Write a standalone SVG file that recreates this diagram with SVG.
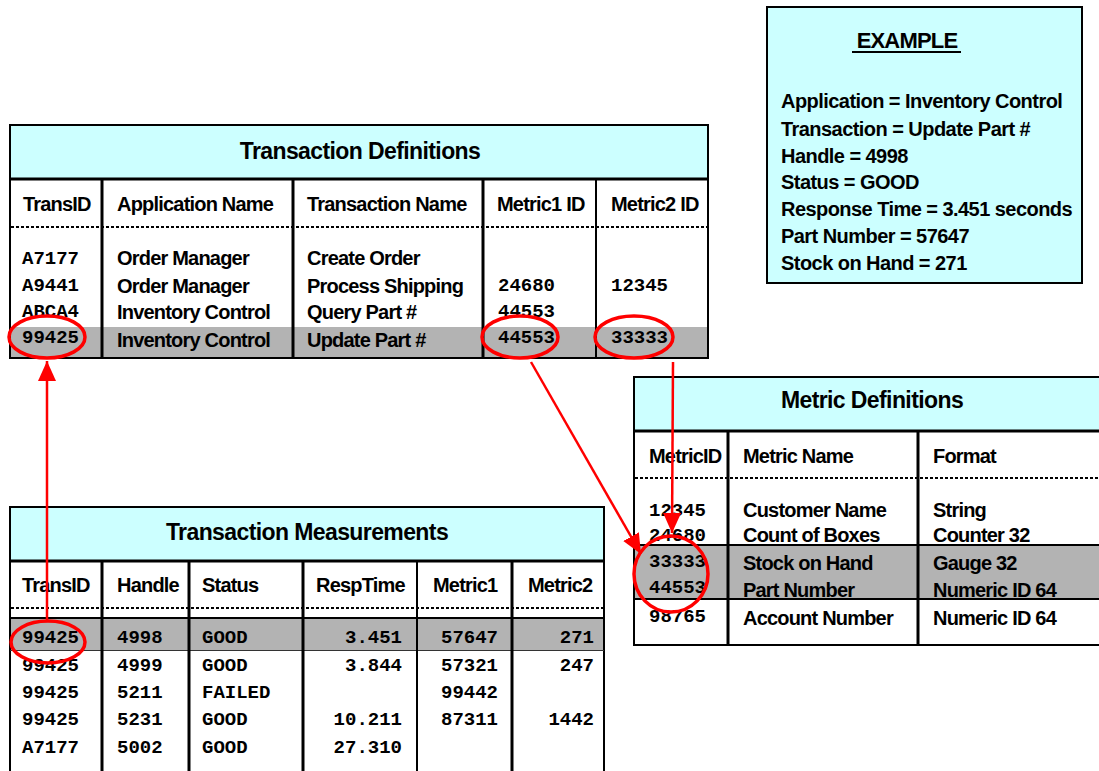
<svg xmlns="http://www.w3.org/2000/svg" width="1099" height="771" viewBox="0 0 1099 771">
  <style>
    .frame { fill: #FFFFFF; stroke: #000000; stroke-width: 2; }
    .band { fill: #CCFFFF; }
    .shade { fill: #B3B3B3; }
    .rule { stroke: #000000; stroke-width: 2; fill: none; }
    .thick { stroke: #000000; stroke-width: 3; fill: none; }
    .dots { stroke: #000000; stroke-width: 2; stroke-dasharray: 3 2; fill: none; }
    .title { font-family: "Liberation Sans", Arial, sans-serif; font-weight: bold; font-size: 23px; letter-spacing: -0.6px; text-anchor: middle; fill: #000; }
    .head { font-family: "Liberation Sans", Arial, sans-serif; font-weight: bold; font-size: 20px; letter-spacing: -0.8px; fill: #000; }
    .txt { font-family: "Liberation Sans", Arial, sans-serif; font-weight: bold; font-size: 20px; letter-spacing: -0.8px; fill: #000; }
    .note { font-family: "Liberation Sans", Arial, sans-serif; font-weight: bold; font-size: 20px; letter-spacing: -0.55px; fill: #000; }
    .caption { font-family: "Liberation Sans", Arial, sans-serif; font-weight: bold; font-size: 22px; letter-spacing: -0.8px; text-anchor: middle; fill: #000; }
    .mono { font-family: "Liberation Mono", "Courier New", monospace; font-weight: bold; font-size: 19px; fill: #000; }
    .end { text-anchor: end; }
    .ring { fill: none; stroke: #FF0000; stroke-width: 3.5; }
    .link { stroke: #FF0000; stroke-width: 2.5; fill: none; marker-end: url(#head); }
  </style>
  <defs>
    <marker id="head" viewBox="0 0 20 18" refX="20" refY="9" markerWidth="20" markerHeight="18" markerUnits="userSpaceOnUse" orient="auto">
      <path d="M0,0 L20,9 L0,18 Z" fill="#FF0000"/>
    </marker>
  </defs>

  <!-- Transaction Definitions table -->
  <g id="transaction-definitions">
    <rect class="frame" x="10" y="125" width="698" height="233"/>
    <rect class="band" x="11" y="126" width="696" height="53"/>
    <rect class="shade" x="11" y="327" width="696" height="30"/>
    <line class="thick" x1="10" y1="179" x2="708" y2="179"/>
    <line class="dots" x1="11" y1="227" x2="707" y2="227"/>
    <line class="thick" x1="102" y1="179" x2="102" y2="358"/>
    <line class="thick" x1="293" y1="179" x2="293" y2="358"/>
    <line class="thick" x1="483" y1="179" x2="483" y2="358"/>
    <line class="rule" x1="596" y1="179" x2="596" y2="358"/>
    <rect class="frame" x="10" y="125" width="698" height="233" style="fill:none"/>
    <text class="title" x="360" y="159">Transaction Definitions</text>
    <text class="head" x="23" y="211">TransID</text>
    <text class="head" x="117" y="211">Application Name</text>
    <text class="head" x="307" y="211">Transaction Name</text>
    <text class="head" x="497" y="211">Metric1 ID</text>
    <text class="head" x="611" y="211">Metric2 ID</text>
    <text class="mono" x="22" y="264">A7177</text>
    <text class="mono" x="22" y="291">A9441</text>
    <text class="mono" x="22" y="317">ABCA4</text>
    <text class="mono" x="22" y="343">99425</text>
    <text class="txt" x="117" y="265">Order Manager</text>
    <text class="txt" x="117" y="293">Order Manager</text>
    <text class="txt" x="117" y="319">Inventory Control</text>
    <text class="txt" x="117" y="347">Inventory Control</text>
    <text class="txt" x="307" y="265">Create Order</text>
    <text class="txt" x="307" y="293">Process Shipping</text>
    <text class="txt" x="307" y="319">Query Part #</text>
    <text class="txt" x="307" y="347">Update Part #</text>
    <text class="mono" x="498" y="291">24680</text>
    <text class="mono" x="498" y="317">44553</text>
    <text class="mono" x="498" y="343">44553</text>
    <text class="mono" x="611" y="291">12345</text>
    <text class="mono" x="611" y="343">33333</text>
  </g>

  <!-- Metric Definitions table (runs off the right edge) -->
  <g id="metric-definitions">
    <rect class="frame" x="634" y="377" width="480" height="268"/>
    <rect class="band" x="635" y="378" width="470" height="53"/>
    <rect class="shade" x="635" y="545" width="470" height="54"/>
    <line class="thick" x1="634" y1="431" x2="1110" y2="431"/>
    <line class="dots" x1="635" y1="478" x2="1110" y2="478"/>
    <line class="rule" x1="634" y1="545" x2="1110" y2="545"/>
    <line class="rule" x1="634" y1="599" x2="1110" y2="599"/>
    <line class="thick" x1="728" y1="431" x2="728" y2="645"/>
    <line class="thick" x1="918" y1="431" x2="918" y2="645"/>
    <text class="title" x="872" y="408">Metric Definitions</text>
    <text class="head" x="649" y="463">MetricID</text>
    <text class="head" x="743" y="463">Metric Name</text>
    <text class="head" x="933" y="463">Format</text>
    <text class="mono" x="649" y="516">12345</text>
    <text class="mono" x="649" y="541">24680</text>
    <text class="mono" x="649" y="567">33333</text>
    <text class="mono" x="649" y="593">44553</text>
    <text class="mono" x="649" y="622">98765</text>
    <text class="txt" x="743" y="517">Customer Name</text>
    <text class="txt" x="743" y="542">Count of Boxes</text>
    <text class="txt" x="743" y="570">Stock on Hand</text>
    <text class="txt" x="743" y="597">Part Number</text>
    <text class="txt" x="743" y="625">Account Number</text>
    <text class="txt" x="933" y="517">String</text>
    <text class="txt" x="933" y="542">Counter 32</text>
    <text class="txt" x="933" y="570">Gauge 32</text>
    <text class="txt" x="933" y="597">Numeric ID 64</text>
    <text class="txt" x="933" y="625">Numeric ID 64</text>
  </g>

  <!-- Transaction Measurements table (runs off the bottom edge) -->
  <g id="transaction-measurements">
    <rect class="frame" x="10" y="507" width="594" height="280"/>
    <rect class="band" x="11" y="508" width="592" height="53"/>
    <rect class="shade" x="11" y="619" width="592" height="31"/>
    <line class="thick" x1="10" y1="561" x2="604" y2="561"/>
    <line class="dots" x1="11" y1="608" x2="603" y2="608"/>
    <line class="rule" x1="10" y1="618" x2="604" y2="618"/>
    <line x1="10" y1="650.5" x2="604" y2="650.5" stroke="#333" stroke-width="1"/>
    <line class="thick" x1="102" y1="561" x2="102" y2="780"/>
    <line class="thick" x1="189" y1="561" x2="189" y2="780"/>
    <line class="thick" x1="303" y1="561" x2="303" y2="780"/>
    <line class="rule" x1="417" y1="561" x2="417" y2="780"/>
    <line class="thick" x1="512" y1="561" x2="512" y2="780"/>
    <text class="title" x="307" y="540">Transaction Measurements</text>
    <text class="head" x="22" y="592">TransID</text>
    <text class="head" x="117" y="592">Handle</text>
    <text class="head" x="202" y="592">Status</text>
    <text class="head" x="316" y="592">RespTime</text>
    <text class="head" x="433" y="592">Metric1</text>
    <text class="head" x="528" y="592">Metric2</text>
    <text class="mono" x="22" y="643">99425</text>
    <text class="mono" x="22" y="671">99425</text>
    <text class="mono" x="22" y="698">99425</text>
    <text class="mono" x="22" y="725">99425</text>
    <text class="mono" x="22" y="753">A7177</text>
    <text class="mono" x="117" y="643">4998</text>
    <text class="mono" x="117" y="671">4999</text>
    <text class="mono" x="117" y="698">5211</text>
    <text class="mono" x="117" y="725">5231</text>
    <text class="mono" x="117" y="753">5002</text>
    <text class="mono" x="202" y="643">GOOD</text>
    <text class="mono" x="202" y="671">GOOD</text>
    <text class="mono" x="202" y="698">FAILED</text>
    <text class="mono" x="202" y="725">GOOD</text>
    <text class="mono" x="202" y="753">GOOD</text>
    <text class="mono end" x="402" y="643">3.451</text>
    <text class="mono end" x="402" y="671">3.844</text>
    <text class="mono end" x="402" y="725">10.211</text>
    <text class="mono end" x="402" y="753">27.310</text>
    <text class="mono" x="441" y="643">57647</text>
    <text class="mono" x="441" y="671">57321</text>
    <text class="mono" x="441" y="698">99442</text>
    <text class="mono" x="441" y="725">87311</text>
    <text class="mono end" x="594" y="643">271</text>
    <text class="mono end" x="594" y="671">247</text>
    <text class="mono end" x="594" y="725">1442</text>
  </g>

  <!-- Worked example callout -->
  <g id="example">
    <rect x="767" y="7" width="315" height="276" fill="#CCFFFF" stroke="#000" stroke-width="2"/>
    <text class="caption" x="907" y="48">EXAMPLE</text>
    <line x1="852" y1="52" x2="961" y2="52" stroke="#000" stroke-width="2"/>
    <text class="note" x="781" y="108">Application = Inventory Control</text>
    <text class="note" x="781" y="136">Transaction = Update Part #</text>
    <text class="note" x="781" y="163">Handle = 4998</text>
    <text class="note" x="781" y="189">Status = GOOD</text>
    <text class="note" x="781" y="216">Response Time = 3.451 seconds</text>
    <text class="note" x="781" y="243">Part Number = 57647</text>
    <text class="note" x="781" y="270">Stock on Hand = 271</text>
  </g>

  <!-- Highlight rings and key links -->
  <g id="connectors">
    <ellipse class="ring" cx="47" cy="337" rx="38" ry="21"/>
    <ellipse class="ring" cx="520" cy="337" rx="38" ry="21"/>
    <ellipse class="ring" cx="634" cy="337" rx="39" ry="21"/>
    <ellipse class="ring" cx="671" cy="574" rx="37" ry="38"/>
    <ellipse class="ring" cx="48" cy="642" rx="37" ry="21"/>
    <line class="link" x1="47" y1="621" x2="47" y2="361"/>
    <line class="link" x1="531" y1="362" x2="641" y2="554"/>
    <line class="link" x1="673" y1="362" x2="672" y2="533"/>
  </g>
</svg>
